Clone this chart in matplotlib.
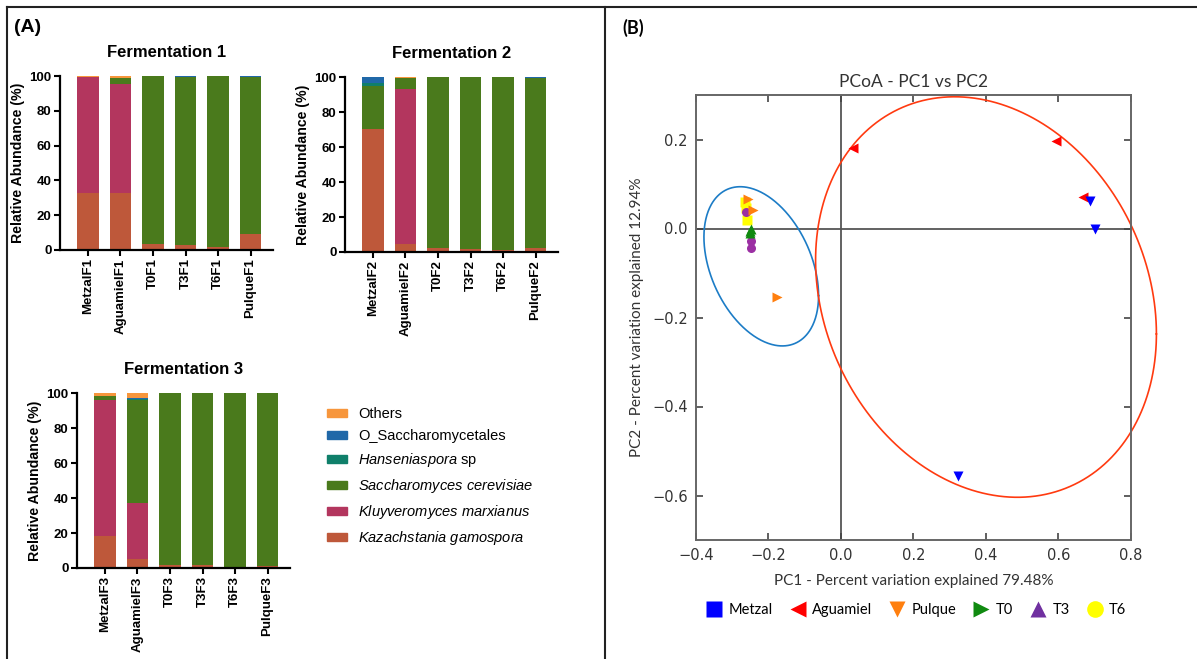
import matplotlib
matplotlib.use("Agg")
import matplotlib.pyplot as plt
from matplotlib.lines import Line2D
from matplotlib.patches import Patch
import numpy as np

plt.rcParams['mathtext.fontset'] = 'custom'
plt.rcParams['mathtext.it'] = 'Liberation Sans:italic'
plt.rcParams['mathtext.rm'] = 'Liberation Sans'

W, H = 1197, 659

# ---- panel A data: relative abundance (%) per sample, one row per fermentation
samples = ['Metzal', 'Aguamiel', 'T0', 'T3', 'T6', 'Pulque']
kazachstania = [[33.0, 32.8, 3.3, 2.7, 1.6, 9.0],
                [70.3, 4.8, 2.5, 1.5, 1.4, 2.5],
                [18.5, 5.0, 1.5, 1.5, 0.3, 1.2]]
kluyveromyces = [[66.2, 62.8, 0, 0, 0, 0],
                 [0, 88.3, 0, 0, 0, 0],
                 [77.5, 32.4, 0, 0, 0, 0]]
saccharomyces = [[0.2, 3.0, 96.7, 96.8, 98.4, 90.4],
                 [24.7, 6.4, 97.5, 98.3, 98.6, 97.0],
                 [2.3, 58.4, 98.5, 98.5, 99.7, 98.8]]
hanseniaspora = [[0, 0.3, 0, 0, 0, 0],
                 [1.6, 0, 0, 0, 0, 0],
                 [0, 0.6, 0, 0, 0, 0]]
o_saccharomycetales = [[0, 0, 0, 0.5, 0, 0.6],
                       [3.4, 0, 0, 0.2, 0, 0.5],
                       [0, 0.5, 0, 0, 0, 0]]
others = [[0.6, 1.1, 0, 0, 0, 0],
          [0, 0.5, 0, 0, 0, 0],
          [1.7, 3.1, 0, 0, 0, 0]]

taxa = [kazachstania, kluyveromyces, saccharomyces, hanseniaspora,
        o_saccharomycetales, others]
taxa_labels = [r'$\mathit{Kazachstania\ gamospora}$',
               r'$\mathit{Kluyveromyces\ marxianus}$',
               r'$\mathit{Saccharomyces\ cerevisiae}$',
               r'$\mathit{Hanseniaspora}$ sp',
               'O_Saccharomycetales', 'Others']
taxa_colors = ['#BE583A', '#B3365E', '#4A7A1C', '#0F7F6A', '#2068A8', '#F7963C']

# ---- panel B data: PCoA coordinates
pcoa_groups = ['Metzal', 'Aguamiel', 'Pulque', 'T0', 'T3', 'T6']
metzal_pc1 = [0.687, 0.700, 0.323]
metzal_pc2 = [0.062, 0.000, -0.556]
aguamiel_pc1 = [0.033, 0.593, 0.668]
aguamiel_pc2 = [0.180, 0.196, 0.071]
pulque_pc1 = [-0.257, -0.243, -0.177]
pulque_pc2 = [0.067, 0.042, -0.153]
t0_pc1 = [-0.252, -0.250, -0.248]
t0_pc2 = [-0.010, -0.005, 0.000]
t3_pc1 = [-0.262, -0.247, -0.247]
t3_pc2 = [0.038, -0.027, -0.044]
t6_pc1 = [-0.265, -0.262, -0.260]
t6_pc2 = [0.060, 0.045, 0.018]

# ellipses: centre and covariance-like spread matrix
blue_center = [-0.22, -0.085]
blue_spread = [[0.025, -0.0104], [-0.0104, 0.032]]
red_center = [0.40, -0.154]
red_spread = [[0.221, -0.039], [-0.039, 0.2025]]

fig = plt.figure(figsize=(W / 100, H / 100), dpi=100)


def px_axes(l, t, r, b):
    return fig.add_axes([l / W, 1 - b / H, (r - l) / W, (b - t) / H])


# frame lines
fig.add_artist(Line2D([7 / W, 1], [1 - 7 / H, 1 - 7 / H], color='#222', lw=1.5))
fig.add_artist(Line2D([7 / W, 7 / W], [0, 1 - 7 / H], color='#222', lw=1.5))
fig.add_artist(Line2D([605 / W, 605 / W], [0, 1 - 7 / H], color='#222', lw=1.5))

bar_font = 'Liberation Sans'
boxes = [(60, 76, 273, 250), (345, 77, 558, 252), (77, 393, 290, 568)]
x = np.arange(len(samples))
for i, box in enumerate(boxes):
    ax = px_axes(*box)
    bottom = np.zeros(len(samples))
    for vals, col in zip(taxa, taxa_colors):
        v = np.array(vals[i], dtype=float)
        ax.bar(x, v, 0.65, bottom=bottom, color=col, edgecolor='none')
        bottom += v
    ax.set_xlim(-0.86, 5.69)
    ax.set_ylim(0, 100)
    ax.set_yticks([0, 20, 40, 60, 80, 100])
    ax.set_xticks(x)
    ax.set_xticklabels([s + 'F%d' % (i + 1) for s in samples], rotation=90,
                       fontfamily=bar_font, fontweight='bold', fontsize=9.5)
    for t in ax.get_yticklabels():
        t.set_fontfamily(bar_font)
        t.set_fontweight('bold')
        t.set_fontsize(9.5)
    for s in ['top', 'right']:
        ax.spines[s].set_visible(False)
    for s in ['left', 'bottom']:
        ax.spines[s].set_linewidth(1.6)
    ax.tick_params(width=1.5, length=4, pad=2)
    ax.set_ylabel('Relative Abundance (%)', fontfamily=bar_font,
                  fontweight='bold', fontsize=10.2, labelpad=3)
    ax.set_title('Fermentation %d' % (i + 1), fontfamily=bar_font,
                 fontweight='bold', fontsize=12, pad=14)

fig.text(14 / W, 1 - 27 / H, '(A)', fontfamily=bar_font, fontweight='bold',
         fontsize=14, va='center')

handles = [Patch(color=c) for c in taxa_colors][::-1]
fig.legend(handles, taxa_labels[::-1], loc='upper left',
           bbox_to_anchor=(314 / W, 1 - 394 / H), frameon=False,
           prop={'family': bar_font, 'size': 10.5}, handlelength=1.35,
           handleheight=0.5, handletextpad=0.8, labelspacing=0.55)

# ---- panel B
b_font = 'Lato'
axb = px_axes(696, 95, 1131, 540)
axb.axhline(0, color='#555', lw=1.3, zorder=1)
axb.axvline(0, color='#555', lw=1.3, zorder=1)

t = np.linspace(0, 2 * np.pi, 400)
for c, spread, col in [(blue_center, blue_spread, '#1C7CC6'),
                       (red_center, red_spread, '#FF3A10')]:
    L = np.linalg.cholesky(np.array(spread))
    pts = L @ np.vstack([np.cos(t), np.sin(t)])
    axb.plot(c[0] + pts[0], c[1] + pts[1], color=col, lw=1.2, clip_on=False,
             zorder=2)

ms = 6.5
axb.plot(t6_pc1, t6_pc2, 's', color='#FFFF00', ms=ms, mec='none', zorder=3)
axb.plot(t3_pc1, t3_pc2, 'o', color='#9B2FA3', ms=ms, mec='none', zorder=3)
axb.plot(t0_pc1, t0_pc2, '^', color='#108A10', ms=ms, mec='none', zorder=3)
axb.plot(pulque_pc1, pulque_pc2, '>', color='#FF7F0E', ms=ms, mec='none', zorder=3)
axb.plot(aguamiel_pc1, aguamiel_pc2, '<', color='#FF0000', ms=ms, mec='none', zorder=3)
axb.plot(metzal_pc1, metzal_pc2, 'v', color='#0000FF', ms=ms, mec='none', zorder=3)

axb.set_xlim(-0.4, 0.8)
axb.set_ylim(-0.7, 0.3)
axb.set_xticks(np.round(np.arange(-0.4, 0.81, 0.2), 1))
axb.set_yticks(np.round(np.arange(-0.6, 0.21, 0.2), 1))
axb.tick_params(direction='in', top=True, right=True, length=5, width=1.2,
                labelsize=10.5, labelcolor='#333', color='#444', pad=6)
for lbl in axb.get_xticklabels() + axb.get_yticklabels():
    lbl.set_fontfamily('DejaVu Sans')
for s in axb.spines.values():
    s.set_color('#666')
    s.set_linewidth(1.4)
axb.set_title('PCoA - PC1 vs PC2', fontfamily=b_font, fontsize=12.5,
              color='#333', pad=6)
axb.set_xlabel('PC1 - Percent variation explained 79.48%', fontfamily=b_font,
               fontsize=11, color='#333', labelpad=8)
axb.set_ylabel('PC2 - Percent variation explained 12.94%', fontfamily=b_font,
               fontsize=11, color='#333', labelpad=6)

fig.text(622 / W, 1 - 28 / H, '(B)', fontfamily=b_font, fontweight='bold',
         fontsize=13, va='center')

leg_markers = ['s', '<', 'v', '>', '^', 'o']
leg_colors = ['#0000FF', '#FF0000', '#FF7F0E', '#108A10', '#7030A0', '#FFFF00']
leg_handles = [Line2D([], [], marker=m, color=c, ls='none', ms=12, mec='none')
               for m, c in zip(leg_markers, leg_colors)]
fig.legend(leg_handles, pcoa_groups, loc='center',
           bbox_to_anchor=(916 / W, 1 - 610 / H), ncol=6, frameon=False,
           prop={'family': b_font, 'size': 10.5}, handletextpad=0.4,
           columnspacing=1.1, handlelength=1.2)

fig.savefig('out.png', dpi=100)
